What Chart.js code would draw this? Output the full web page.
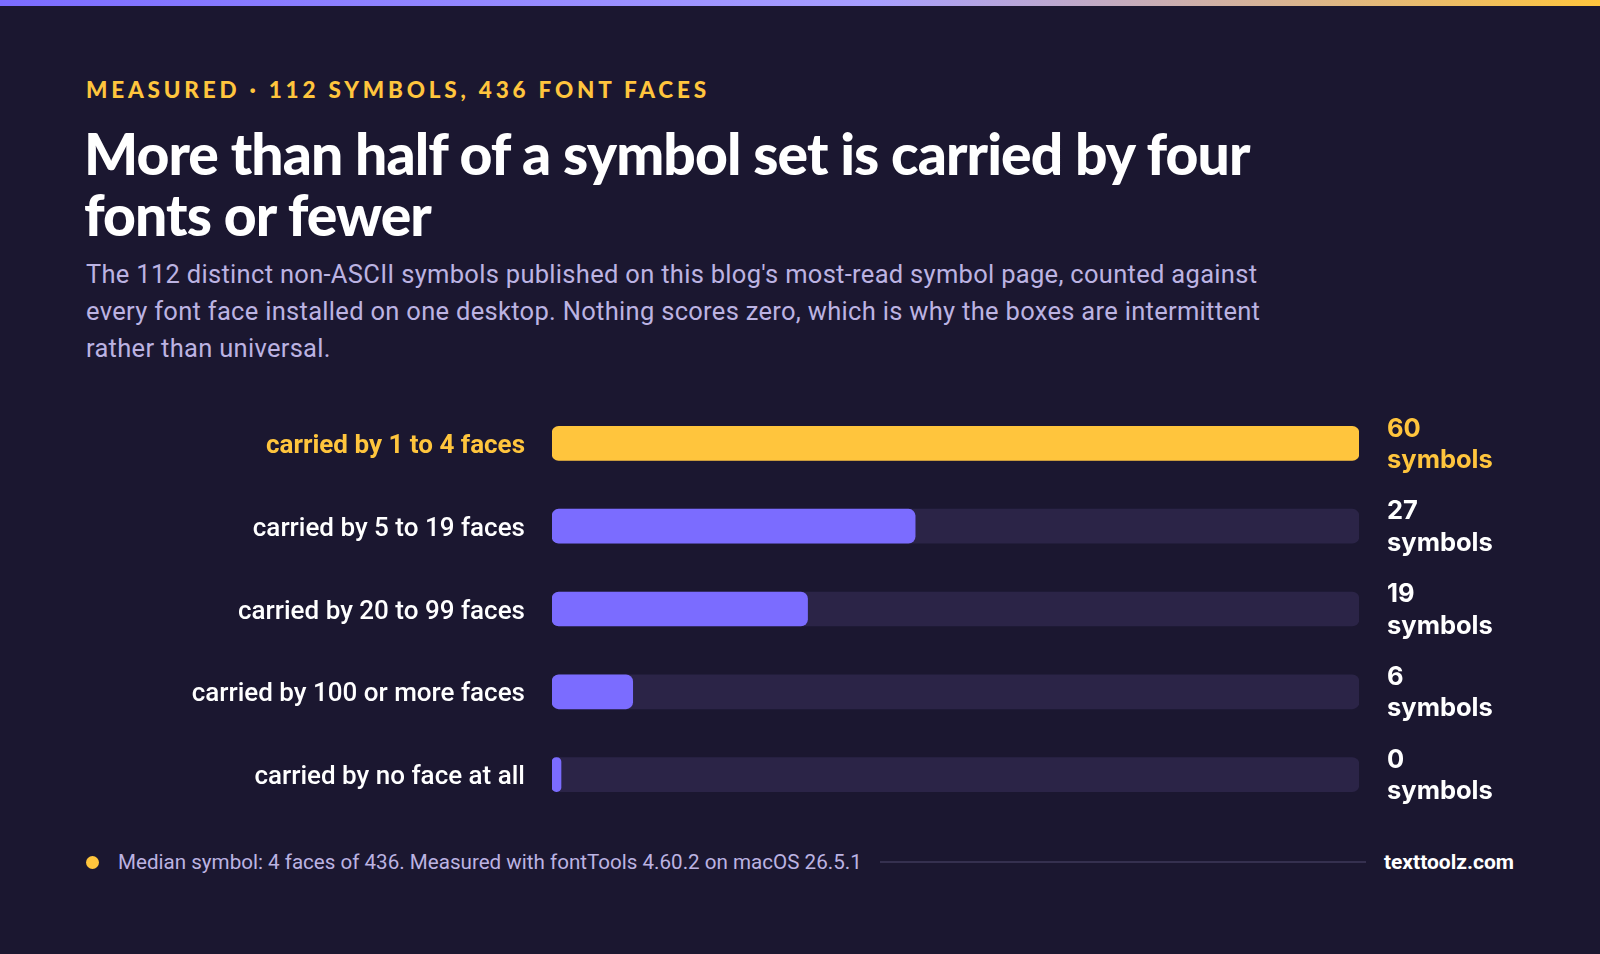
<!DOCTYPE html>
<html>
<head>
<meta charset="utf-8">
<script src="https://cdn.jsdelivr.net/npm/chart.js@4"></script>
<style>
  html, body { margin: 0; padding: 0; }
  body {
    width: 1600px; height: 954px; overflow: hidden;
    background: #1b1730; position: relative;
    font-family: Roboto, "Noto Sans", sans-serif;
  }
  .topbar {
    position: absolute; left: 0; top: 0; width: 1600px; height: 6px;
    background: linear-gradient(90deg, #7b6cff 0%, #a89fff 55%, #ffc53d 100%);
  }
  .kicker {
    position: absolute; left: 86px; top: 76px;
    color: #ffc53d; font-family: Lato, sans-serif; font-weight: 900;
    font-size: 22.5px; letter-spacing: 3.8px;
  }
  h1 {
    position: absolute; left: 84px; top: 123px; margin: 0;
    color: #ffffff; font-family: Lato, sans-serif; font-weight: 900;
    font-size: 57px; line-height: 61px; letter-spacing: -0.9px;
  }
  .sub {
    position: absolute; left: 86px; top: 256px; margin: 0;
    color: #bcb3e2; font-size: 25.5px; line-height: 37px; letter-spacing: 0.3px;
  }
  #wrap { position: absolute; left: 0; top: 402px; width: 1600px; height: 414px; }
  .foot {
    position: absolute; left: 86px; top: 850px; width: 1428px; height: 24px;
    display: flex; align-items: center;
  }
  .dot { width: 13px; height: 13px; border-radius: 50%; background: #ffc53d; margin-right: 19px; }
  .note { color: #bcb3e2; font-size: 20.6px; white-space: nowrap; }
  .rule { flex: 1; height: 2px; background: #35304f; margin: 0 18px 0 18px; }
  .brand { color: #ffffff; font-size: 21px; font-weight: 700; }
</style>
</head>
<body>
<div class="topbar"></div>
<div class="kicker">MEASURED · 112 SYMBOLS, 436 FONT FACES</div>
<h1>More than half of a symbol set is carried by four<br>fonts or fewer</h1>
<p class="sub">The 112 distinct non-ASCII symbols published on this blog's most-read symbol page, counted against<br>every font face installed on one desktop. Nothing scores zero, which is why the boxes are intermittent<br>rather than universal.</p>
<div id="wrap"><canvas id="coverChart"></canvas></div>
<div class="foot">
  <div class="dot"></div>
  <div class="note">Median symbol: 4 faces of 436. Measured with fontTools 4.60.2 on macOS 26.5.1</div>
  <div class="rule"></div>
  <div class="brand">texttoolz.com</div>
</div>
<script>
const labels = ["carried by 1 to 4 faces", "carried by 5 to 19 faces", "carried by 20 to 99 faces", "carried by 100 or more faces", "carried by no face at all"];
const symbolCounts = [60, 27, 19, 6, 0];
const unitLabel = "symbols";
const highlightIndex = 0;
const scaleMax = 60;

const yellow = "#ffc53d";
const purple = "#7b6cff";
const track = "#2b2447";

// value + unit printed to the right of each track
const valueLabels = {
  id: "valueLabels",
  afterDatasetsDraw(chart) {
    const ctx = chart.ctx;
    const meta = chart.getDatasetMeta(1);
    ctx.save();
    ctx.textAlign = "left";
    ctx.textBaseline = "middle";
    ctx.font = "700 25.5px Inter, sans-serif";
    meta.data.forEach(function(bar, i) {
      ctx.fillStyle = i === highlightIndex ? yellow : "#ffffff";
      const x = chart.chartArea.right + 28;
      ctx.fillText(String(symbolCounts[i]), x, bar.y - 14.5);
      ctx.fillText(unitLabel, x, bar.y + 17);
    });
    ctx.restore();
  }
};

let coverChart = new Chart(
  document.getElementById("coverChart"),
  {
    type: "bar",
    data: {
      labels: labels,
      datasets: [{
        label: "track",
        data: labels.map(() => scaleMax),
        backgroundColor: track,
        borderRadius: 7,
        borderSkipped: false,
        barThickness: 34,
        grouped: false,
        order: 2
      }, {
        label: "symbols",
        data: symbolCounts,
        backgroundColor: symbolCounts.map((v, i) => i === highlightIndex ? yellow : purple),
        borderRadius: 7,
        borderSkipped: false,
        barThickness: 34,
        minBarLength: 9,
        grouped: false,
        order: 1
      }]
    },
    options: {
      indexAxis: "y",
      responsive: true,
      maintainAspectRatio: false,
      animation: false,
      layout: { padding: { left: 0, right: 241, top: 0, bottom: 0 } },
      plugins: { legend: { display: false }, tooltip: { enabled: false } },
      scales: {
        x: { display: false, min: 0, max: scaleMax },
        y: {
          afterFit: function(scale) {
            scale.width = 552;
            scale.paddingTop = 0;
            scale.paddingBottom = 0;
          },
          grid: { display: false, drawTicks: false },
          border: { display: false },
          ticks: {
            padding: 27,
            labelOffset: 3,
            color: (c) => c.index === highlightIndex ? yellow : "#ffffff",
            font: (c) => ({ family: "Roboto", size: 26, weight: c.index === highlightIndex ? "700" : "500" })
          }
        }
      }
    },
    plugins: [valueLabels]
  }
);
</script>
</body>
</html>
